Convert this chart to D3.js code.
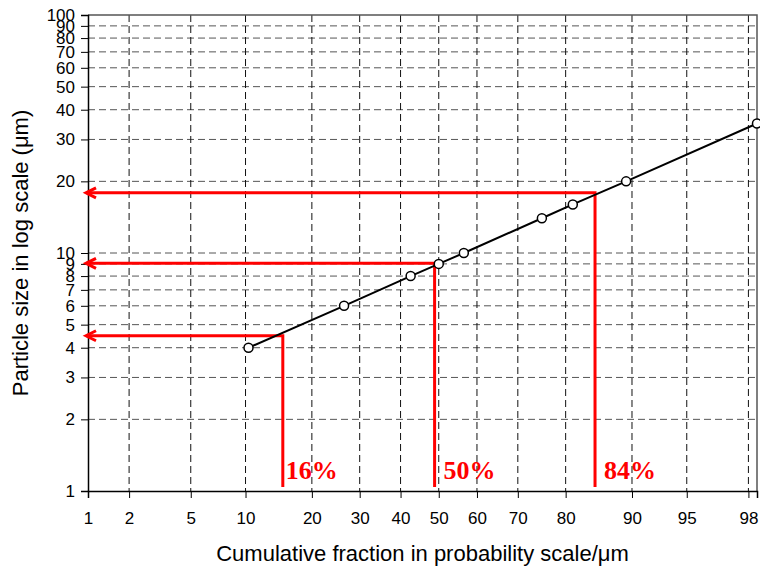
<!DOCTYPE html>
<html>
  <head>
    <meta charset="utf-8">
    <title>Particle size on log-probability paper</title>
    <script src="https://d3js.org/d3.v7.min.js"></script>
    <style>
      body { margin: 0; background: #fff; }
      svg { display: block; font-family: Arial, "Liberation Sans", sans-serif; }
    </style>
  </head>
  <body>
    <div id="chart"></div>
    <script>
      // measured points: cumulative % vs particle size (um)
      const cumPct = [10.35, 26.5, 42.6, 50, 56.6, 75.3, 81.3, 89.3, 98.26];
      const sizes = [4, 6, 8, 9, 10, 14, 16, 20, 35];
      // red read-off guides (16%, 50%, 84%)
      const guidePct = [15.05, 48.9, 85.0];
      const guideSize = [4.49, 9.05, 17.9];
      const guideLabels = ["16%", "50%", "84%"];
      // axis ticks
      const xTicks = [1, 2, 5, 10, 20, 30, 40, 50, 60, 70, 80, 90, 95, 98];
      const yTicks = [1, 2, 3, 4, 5, 6, 7, 8, 9, 10, 20, 30, 40, 50, 60, 70, 80, 90, 100];
      const xExtent = [1, 98.26];
      const yExtent = [1, 100];

      // inverse normal cdf (Acklam)
      function probit(p) {
        const a = [-39.69683028665376, 220.9460984245205, -275.9285104469687, 138.3577518672690, -30.66479806614716, 2.506628277459239];
        const b = [-54.47609879822406, 161.5858368580409, -155.6989798598866, 66.80131188771972, -13.28068155288572];
        const c = [-0.007784894002430293, -0.3223964580411365, -2.400758277161838, -2.549732539343734, 4.374664141464968, 2.938163982698783];
        const d = [0.007784695709041462, 0.3224671290700398, 2.445134137142996, 3.754408661907416];
        const pl = 0.02425;
        let q, r;
        if (p < pl || p > 1 - pl) {
          q = Math.sqrt(-2 * Math.log(p < pl ? p : 1 - p));
          const v = (((((c[0]*q + c[1])*q + c[2])*q + c[3])*q + c[4])*q + c[5]) /
                    ((((d[0]*q + d[1])*q + d[2])*q + d[3])*q + 1);
          return p < pl ? v : -v;
        }
        q = p - 0.5; r = q * q;
        return (((((a[0]*r + a[1])*r + a[2])*r + a[3])*r + a[4])*r + a[5]) * q /
               (((((b[0]*r + b[1])*r + b[2])*r + b[3])*r + b[4])*r + 1);
      }

      const W = 760, H = 571;
      const margin = { top: 15, right: 3, bottom: 80, left: 88 };
      const w = W - margin.left - margin.right;
      const h = H - margin.top - margin.bottom;

      const svg = d3.select("#chart").append("svg")
        .attr("width", W)
        .attr("height", H);
      const g = svg.append("g")
        .attr("transform", `translate(${margin.left},${margin.top})`);

      // scales: probability axis is linear in z
      const xz = d3.scaleLinear()
        .domain(xExtent.map(p => probit(p / 100)))
        .range([0, w]);
      const x = p => xz(probit(p / 100));
      const y = d3.scaleLog()
        .domain(yExtent)
        .range([h, 0]);

      // grid
      g.append("g").selectAll("line")
        .data(yTicks.filter(v => v > 1 && v < 100))
        .join("line")
          .attr("x1", 0).attr("x2", w)
          .attr("y1", d => y(d)).attr("y2", d => y(d))
          .attr("stroke", "#555")
          .attr("stroke-width", 1)
          .attr("stroke-dasharray", "7,4");
      g.append("g").selectAll("line")
        .data(xTicks.filter(v => v > 1))
        .join("line")
          .attr("x1", d => x(d)).attr("x2", d => x(d))
          .attr("y1", 0).attr("y2", h)
          .attr("stroke", "#111")
          .attr("stroke-width", 1)
          .attr("stroke-dasharray", "7,4");

      // top and right frame
      g.append("path")
        .attr("d", `M0,0H${w}V${h}`)
        .attr("fill", "none")
        .attr("stroke", "#555")
        .attr("stroke-width", 1.5);

      // axes
      const xAxis = d3.axisBottom(xz)
        .tickValues(xTicks.map(p => probit(p / 100)))
        .tickFormat((d, i) => xTicks[i])
        .tickSize(7)
        .tickPadding(14);
      const yAxis = d3.axisLeft(y)
        .tickValues(yTicks)
        .tickFormat(d3.format("d"))
        .tickSize(7)
        .tickPadding(6);

      const gx = g.append("g")
        .attr("transform", `translate(0,${h})`)
        .call(xAxis);
      const gy = g.append("g").call(yAxis);
      [gx, gy].forEach(a => {
        a.attr("font-family", null).attr("font-size", null);
        a.select(".domain").attr("stroke", "#000").attr("stroke-width", 1.5);
        a.selectAll(".tick line").attr("stroke", "#000").attr("stroke-width", 1);
        a.selectAll(".tick text").attr("fill", "#000").style("font-size", "17px");
      });

      // red guides with arrows
      const tipX = -2;
      guidePct.forEach((p, i) => {
        const gx0 = x(p), gy0 = y(guideSize[i]);
        g.append("path")
          .attr("d", `M${gx0},${h - 4}V${gy0}H${tipX}`)
          .attr("fill", "none")
          .attr("stroke", "#ff0000")
          .attr("stroke-width", 3)
          .attr("stroke-linejoin", "miter");
        g.append("path")
          .attr("d", `M${tipX + 10},${gy0 - 5}L${tipX},${gy0}L${tipX + 10},${gy0 + 5}`)
          .attr("fill", "none")
          .attr("stroke", "#ff0000")
          .attr("stroke-width", 3);
      });
      const labelDx = [3, 9, 9];
      g.append("g").selectAll("text")
        .data(guideLabels)
        .join("text")
          .attr("x", (d, i) => x(guidePct[i]) + labelDx[i])
          .attr("y", h - 12)
          .attr("fill", "#ff0000")
          .style("font-family", "'Liberation Serif', 'Times New Roman', serif")
          .style("font-weight", "bold")
          .style("font-size", "26px")
          .text(d => d);

      // data line and markers
      const pts = cumPct.map((p, i) => [p, sizes[i]]);
      g.append("path")
        .datum(pts)
        .attr("d", d3.line().x(d => x(d[0])).y(d => y(d[1])))
        .attr("fill", "none")
        .attr("stroke", "#000")
        .attr("stroke-width", 2);
      g.append("g").selectAll("circle")
        .data(pts)
        .join("circle")
          .attr("cx", d => x(d[0]))
          .attr("cy", d => y(d[1]))
          .attr("r", 4.5)
          .attr("fill", "#fff")
          .attr("stroke", "#000")
          .attr("stroke-width", 1.5);

      // titles
      svg.append("text")
        .attr("x", margin.left + w / 2)
        .attr("y", 561)
        .attr("text-anchor", "middle")
        .style("font-size", "22px")
        .text("Cumulative fraction in probability scale/\u03bcm");
      svg.append("text")
        .attr("transform", `translate(28,${margin.top + h / 2}) rotate(-90)`)
        .attr("text-anchor", "middle")
        .style("font-size", "22px")
        .text("Particle size in log scale (\u03bcm)");
    </script>
  </body>
</html>
